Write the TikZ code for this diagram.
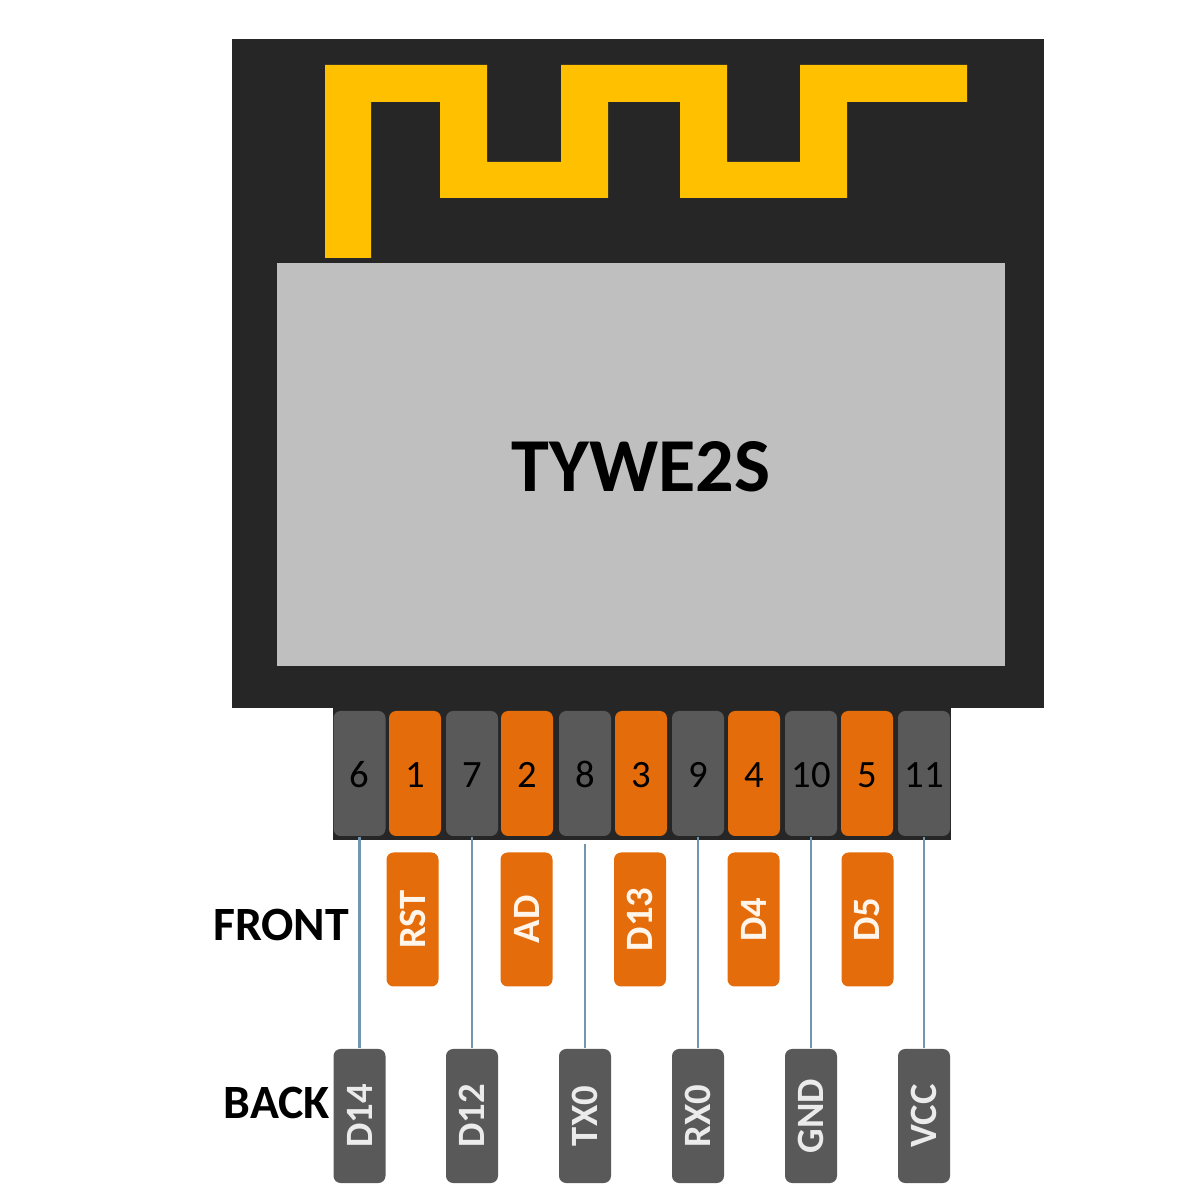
\documentclass[tikz,border=0pt]{standalone}
\usepackage{fontspec}
\setmainfont{Carlito}
\definecolor{boardblack}{HTML}{262626}
\definecolor{chipgray}{HTML}{BFBFBF}
\definecolor{antennayellow}{HTML}{FFC000}
\definecolor{pinorange}{HTML}{E46C0A}
\definecolor{pingray}{HTML}{595959}
\definecolor{wireblue}{HTML}{7396B0}
\tikzset{
  pinbox/.style={rectangle, rounded corners=2pt, inner sep=0pt, minimum width=0.52cm, minimum height=1.25cm, text height=8.2pt, font=\fontsize{11}{13}\selectfont, text=black},
  tagbox/.style={rectangle, rounded corners=2pt, inner sep=0pt, rotate=90, minimum width=1.34cm, minimum height=0.52cm, font=\bfseries\fontsize{11}{13}\selectfont},
  wire/.style={draw=wireblue, line width=0.6pt},
  sidelabel/.style={inner sep=0pt, font=\bfseries\fontsize{13.6}{16}\selectfont}
}
\begin{document}
\begin{tikzpicture}
    \useasboundingbox (0,0) rectangle (12,12);
    \node[fill=boardblack, inner sep=0pt, minimum width=8.12cm, minimum height=6.69cm] (board) at (6.38,8.265) {};
    \fill[antennayellow] (3.25,9.42) -- (3.25,11.35) -- (4.87,11.35) -- (4.87,10.38) -- (5.61,10.38) -- (5.61,11.35) -- (7.27,11.35) -- (7.27,10.38) -- (8.00,10.38) -- (8.00,11.35) -- (9.67,11.35) -- (9.67,10.98) -- (8.47,10.98) -- (8.47,10.02) -- (6.80,10.02) -- (6.80,10.98) -- (6.08,10.98) -- (6.08,10.02) -- (4.40,10.02) -- (4.40,10.98) -- (3.71,10.98) -- (3.71,9.42) -- cycle;
    \node[fill=chipgray, inner sep=0pt, minimum width=7.28cm, minimum height=4.03cm, text height=15.7pt, font=\bfseries\fontsize{21.7}{26}\selectfont] (chip) at (6.41,7.355) {TYWE2S};
    \node[fill=boardblack, inner sep=0pt, minimum width=6.18cm, minimum height=1.33cm] (header) at (6.42,4.265) {};
    % pins along the edge
    \node[pinbox, fill=pingray] (pin6) at (3.595,4.265) {6};
    \node[pinbox, fill=pinorange] (pin1) at (4.15,4.265) {1};
    \node[pinbox, fill=pingray] (pin7) at (4.72,4.265) {7};
    \node[pinbox, fill=pinorange] (pin2) at (5.27,4.265) {2};
    \node[pinbox, fill=pingray] (pin8) at (5.85,4.265) {8};
    \node[pinbox, fill=pinorange] (pin3) at (6.41,4.265) {3};
    \node[pinbox, fill=pingray] (pin9) at (6.98,4.265) {9};
    \node[pinbox, fill=pinorange] (pin4) at (7.54,4.265) {4};
    \node[pinbox, fill=pingray] (pin10) at (8.11,4.265) {10};
    \node[pinbox, fill=pinorange] (pin5) at (8.67,4.265) {5};
    \node[pinbox, fill=pingray] (pin11) at (9.24,4.265) {11};
    % front tags
    \node[tagbox, fill=pinorange, text=orange!8] (tagRST) at (4.125,2.805) {RST};
    \node[tagbox, fill=pinorange, text=orange!8] (tagAD) at (5.265,2.805) {AD};
    \node[tagbox, fill=pinorange, text=orange!8] (tagD13) at (6.40,2.805) {D13};
    \node[tagbox, fill=pinorange, text=orange!8] (tagD4) at (7.535,2.805) {D4};
    \node[tagbox, fill=pinorange, text=orange!8] (tagD5) at (8.675,2.805) {D5};
    % back tags
    \node[tagbox, fill=pingray, text=white!92!black] (tagD14) at (3.595,0.84) {D14};
    \node[tagbox, fill=pingray, text=white!92!black] (tagD12) at (4.72,0.84) {D12};
    \node[tagbox, fill=pingray, text=white!92!black] (tagTX) at (5.85,0.84) {TX0};
    \node[tagbox, fill=pingray, text=white!92!black] (tagRX) at (6.98,0.84) {RX0};
    \node[tagbox, fill=pingray, text=white!92!black] (tagGND) at (8.11,0.84) {GND};
    \node[tagbox, fill=pingray, text=white!92!black] (tagVCC) at (9.24,0.84) {VCC};
    \draw[wire] (pin6) -- (tagD14);
    \draw[wire] (pin7) -- (tagD12);
    \draw[wire, shorten <=2pt] (pin8) -- (tagTX);
    \draw[wire] (pin9) -- (tagRX);
    \draw[wire] (pin10) -- (tagGND);
    \draw[wire] (pin11) -- (tagVCC);
    \node[sidelabel] (front) at (2.81,2.75) {FRONT};
    \node[sidelabel] (back) at (2.77,0.97) {BACK};
\end{tikzpicture}
\end{document}
